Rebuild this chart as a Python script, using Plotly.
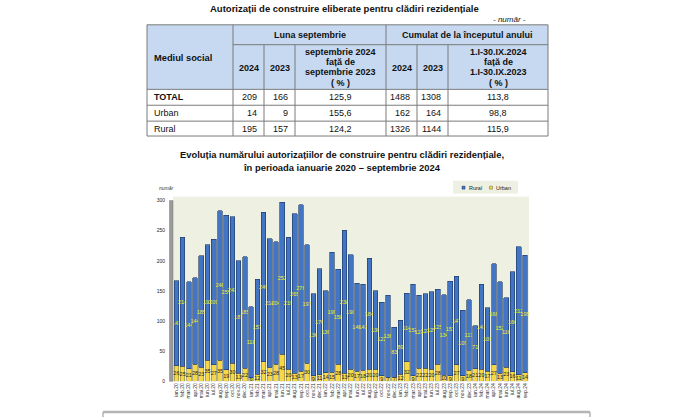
import plotly.graph_objects as go

# ---------------- data ----------------
table_rows = ["TOTAL", "Urban", "Rural"]
sep_2024 = [209, 14, 195]
sep_2023 = [166, 9, 157]
sep_pct = ["125,9", "155,6", "124,2"]
cum_2024 = [1488, 162, 1326]
cum_2023 = [1308, 164, 1144]
cum_pct = ["113,8", "98,8", "115,9"]

months = [
    "ian.20", "feb.20", "mar.20", "apr.20", "mai.20", "iun.20", "iul.20", "aug.20", "sep.20", "oct.20", "nov.20", "dec.20",
    "ian.21", "feb.21", "mar.21", "apr.21", "mai.21", "iun.21", "iul.21", "aug.21", "sep.21", "oct.21", "nov.21", "dec.21",
    "ian.22", "feb.22", "mar.22", "apr.22", "mai.22", "iun.22", "iul.22", "aug.22", "sep.22", "oct.22", "nov.22", "dec.22",
    "ian.23", "feb.23", "mar.23", "apr.23", "mai.23", "iun.23", "iul.23", "aug.23", "sep.23", "oct.23", "nov.23", "dec.23",
    "ian.24", "feb.24", "mar.24", "apr.24", "mai.24", "iun.24", "iul.24", "aug.24", "sep.24",
]
rural = [141, 214, 144, 144, 185, 192, 209, 248, 257, 243,
         187, 185, 118, 157, 249, 214, 204, 252, 219, 265,
         276, 197, 136, 176, 136, 199, 158, 238, 190, 146,
         143, 184, 130, 122, 136, 83, 89, 114, 152, 121,
         123, 129, 125, 134, 157, 147, 109, 117, 71, 141,
         105, 168, 152, 116, 166, 212, 195]
urban = [26, 25, 21, 28, 23, 35, 27, 35, 19, 30,
         13, 22, 6, 12, 32, 23, 28, 45, 20, 13,
         17, 30, 9, 11, 14, 15, 28, 13, 20, 17,
         18, 20, 20, 9, 7, 7, 12, 32, 9, 22,
         22, 20, 28, 10, 9, 27, 9, 18, 21, 20,
         17, 27, 13, 23, 16, 11, 14]
y_ticks = [0, 50, 100, 150, 200, 250, 300]

# ---------------- helpers (page pixel -> paper) ----------------
W, H = 700, 420
def X(px):
    return px / W
def Y(py):
    return 1 - py / H

FONT = "Arial, Liberation Sans, sans-serif"
BLUE = "#4275c4"
YELLOW = "#f6d846"
PLOT_BG = "#eef1e1"

fig = go.Figure()
fig.add_bar(
    x=months, y=urban, name="Urban",
    marker=dict(color=YELLOW, line=dict(color="#6b6b4a", width=0.5)),
    text=urban, textposition="inside", insidetextanchor="middle",
    textangle=0, constraintext="none",
    textfont=dict(size=5.5, color="#222222", family=FONT),
)
fig.add_bar(
    x=months, y=rural, name="Rural",
    marker=dict(color=BLUE, line=dict(color="#1f3560", width=0.6)),
    text=rural, textposition="inside", insidetextanchor="middle",
    textangle=0, constraintext="none",
    textfont=dict(size=5.5, color="#f0f028", family=FONT),
)

shapes = []
annotations = []

# ---------- table ----------
cols = [147, 233, 264, 295, 386, 417, 448, 548]
rows = [25, 45, 90, 106, 122, 137]
LINE = dict(color="#7a7a7a", width=1)
shapes.append(dict(type="rect", xref="paper", yref="paper",
                   x0=X(cols[0]), x1=X(cols[-1]), y0=Y(rows[2]), y1=Y(rows[0]),
                   fillcolor="#c6d9f1", line=dict(width=0), layer="below"))
def hline(y, x0, x1):
    shapes.append(dict(type="line", xref="paper", yref="paper",
                       x0=X(x0), x1=X(x1), y0=Y(y), y1=Y(y), line=LINE))
def vline(x, y0, y1):
    shapes.append(dict(type="line", xref="paper", yref="paper",
                       x0=X(x), x1=X(x), y0=Y(y0), y1=Y(y1), line=LINE))
hline(rows[0], cols[0], cols[-1])
hline(rows[1], cols[1], cols[-1])
for r in rows[2:]:
    hline(r, cols[0], cols[-1])
for c in [cols[0], cols[1], cols[4], cols[-1]]:
    vline(c, rows[0], rows[-1])
for c in [cols[2], cols[3], cols[5], cols[6]]:
    vline(c, rows[1], rows[-1])

def text(t, x, y, size=9, bold=False, italic=False, xanchor="center", color="#111111"):
    if bold:
        t = "<b>" + t + "</b>"
    if italic:
        t = "<i>" + t + "</i>"
    annotations.append(dict(text=t, x=X(x), y=Y(y), xref="paper", yref="paper",
                            showarrow=False, xanchor=xanchor, yanchor="middle",
                            font=dict(size=size, color=color, family=FONT)))

text("Autorizații de construire eliberate pentru clădiri rezidențiale", 344, 9, size=9.5, bold=True)
text("- număr -", 528, 20, size=8, italic=True, xanchor="right")
text("Mediul social", 152, 58, size=9.3, bold=True, xanchor="left")
text("Luna septembrie", (cols[1] + cols[4]) / 2, 35, bold=True)
text("Cumulat de la începutul anului", (cols[4] + cols[7]) / 2, 35, bold=True)
for lbl, c0, c1 in [("2024", 1, 2), ("2023", 2, 3), ("2024", 4, 5), ("2023", 5, 6)]:
    text(lbl, (cols[c0] + cols[c1]) / 2, 68, bold=True)
for i, line in enumerate(["septembrie 2024", "față de", "septembrie 2023", "( % )"]):
    text(line, (cols[3] + cols[4]) / 2, 52 + i * 10.4, bold=True)
for i, line in enumerate(["1.I-30.IX.2024", "față de", "1.I-30.IX.2023", "( % )"]):
    text(line, (cols[6] + cols[7]) / 2, 52 + i * 10.4, bold=True)
for i, name in enumerate(table_rows):
    yc = (rows[2 + i] + rows[3 + i]) / 2
    text(name, 152, yc, bold=(i == 0), xanchor="left")
    text(str(sep_2024[i]), cols[2] - 5, yc, xanchor="right")
    text(str(sep_2023[i]), cols[3] - 5, yc, xanchor="right")
    text(sep_pct[i], (cols[3] + cols[4]) / 2, yc)
    text(str(cum_2024[i]), cols[5] - 5, yc, xanchor="right")
    text(str(cum_2023[i]), cols[6] - 5, yc, xanchor="right")
    text(cum_pct[i], (cols[6] + cols[7]) / 2, yc)

# ---------- chart titles ----------
text("Evoluția numărului autorizațiilor de construire pentru clădiri rezidențiale,", 342, 156, size=9.4, bold=True)
text("în perioada ianuarie 2020 – septembrie 2024", 342, 169, size=9.4, bold=True)
text("număr", 157, 189, size=5, italic=True, xanchor="left", color="#333333")

# ---------- manual legend ----------
shapes.append(dict(type="rect", xref="paper", yref="paper",
                   x0=X(453), x1=X(518), y0=Y(195), y1=Y(182),
                   fillcolor=PLOT_BG, line=dict(width=0)))
shapes.append(dict(type="rect", xref="paper", yref="paper",
                   x0=X(462), x1=X(465), y0=Y(190.5), y1=Y(187.5),
                   fillcolor=BLUE, line=dict(color="#1f3560", width=0.5)))
shapes.append(dict(type="rect", xref="paper", yref="paper",
                   x0=X(489.5), x1=X(492.5), y0=Y(190.5), y1=Y(187.5),
                   fillcolor=YELLOW, line=dict(color="#6b6b4a", width=0.5)))
text("Rural", 466.5, 189, size=5.5, xanchor="left", color="#222222")
text("Urban", 493.5, 189, size=5.5, xanchor="left", color="#222222")

# ---------- 3D wall and bottom frame ----------
shapes.append(dict(type="rect", xref="paper", yref="paper",
                   x0=X(169.5), x1=X(173), y0=Y(384), y1=Y(202),
                   fillcolor="#9a9a9a", line=dict(color="#7a7a7a", width=0.5)))
shapes.append(dict(type="line", xref="paper", yref="paper",
                   x0=X(103), x1=X(590), y0=Y(415), y1=Y(415),
                   line=dict(color="#b4b4b4", width=2.5)))
shapes.append(dict(type="line", xref="paper", yref="paper",
                   x0=X(103), x1=X(103), y0=Y(415), y1=Y(420),
                   line=dict(color="#b4b4b4", width=1.5)))
shapes.append(dict(type="line", xref="paper", yref="paper",
                   x0=X(590), x1=X(590), y0=Y(415), y1=Y(420),
                   line=dict(color="#b4b4b4", width=1.5)))

y_top_px = 198
y_range_top = 300 * (384 - y_top_px) / (384 - 202)

fig.update_layout(
    width=W, height=H, autosize=False,
    margin=dict(l=0, r=0, t=0, b=0),
    paper_bgcolor="white", plot_bgcolor=PLOT_BG,
    barmode="stack", bargap=0.25,
    showlegend=False,
    shapes=shapes, annotations=annotations,
    font=dict(family=FONT),
    xaxis=dict(domain=[X(173), X(529)], range=[-0.55, 56.65],
               tickmode="array", tickvals=months, ticktext=months,
               tickangle=-90, tickfont=dict(size=5, color="#333333"),
               showgrid=False, showline=False, zeroline=False, ticks=""),
    yaxis=dict(domain=[Y(384), Y(y_top_px)], range=[0, y_range_top],
               tickmode="array", tickvals=y_ticks,
               tickfont=dict(size=5, color="#222222"),
               showgrid=False, showline=False, zeroline=False,
               ticklabelstandoff=7),
)

# remove the default 8px page margin so the figure sits at the window's corner
fig.write_html("out.html", config={"displayModeBar": False},
               post_script="document.body.style.margin='0px';")
